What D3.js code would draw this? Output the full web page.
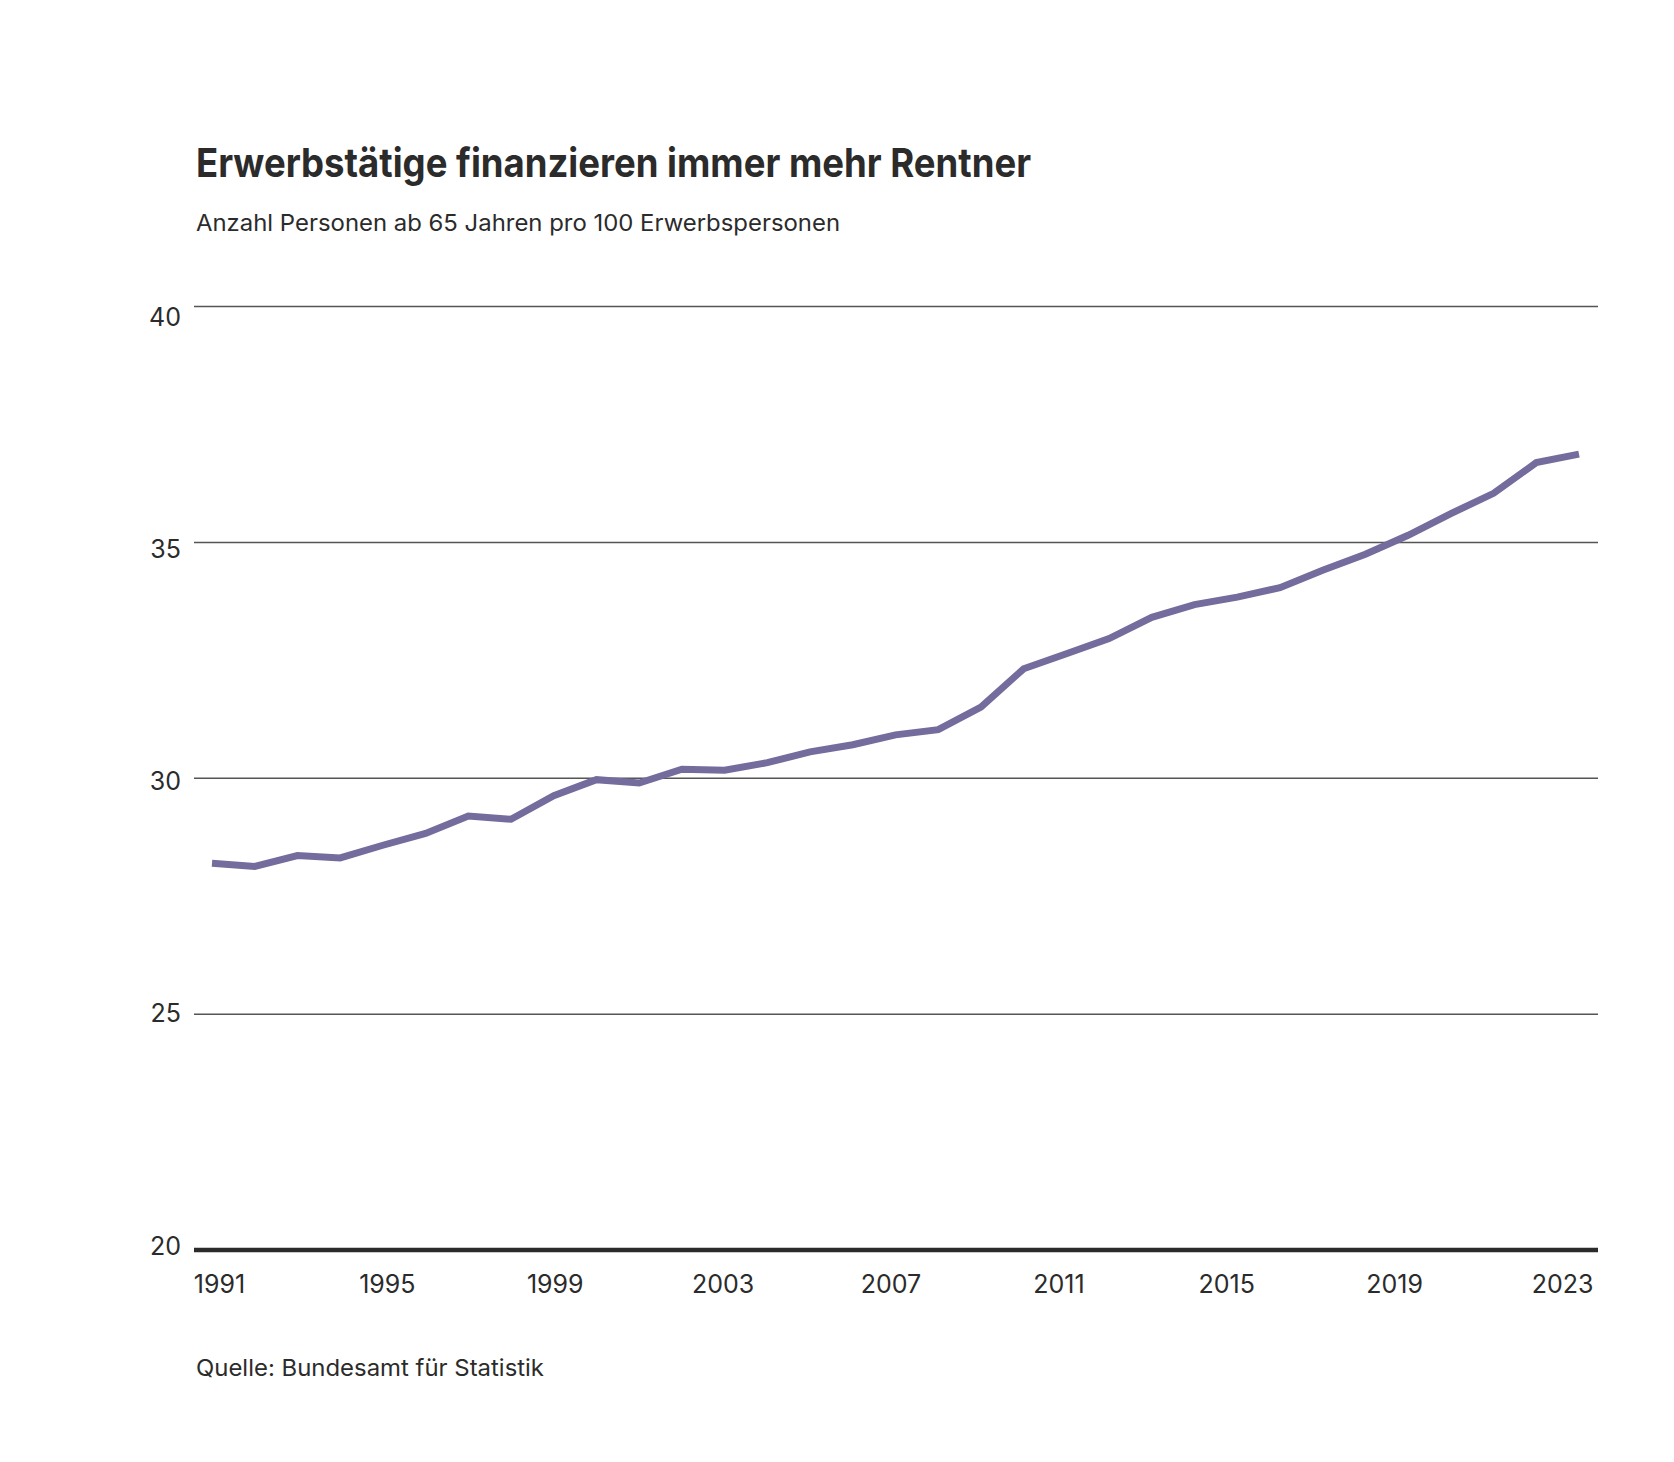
<!DOCTYPE html>
<html><head><meta charset="utf-8">
<script src="https://cdn.jsdelivr.net/npm/d3@7"></script>
<style>
html,body{margin:0;padding:0;background:#fff;}
svg{display:block;}
text{font-family:Inter,"Noto Sans",sans-serif;fill:#2b2b2b;}
</style></head>
<body>
<script>
const years = [1991,1992,1993,1994,1995,1996,1997,1998,1999,2000,2001,2002,2003,2004,2005,2006,2007,2008,2009,2010,2011,2012,2013,2014,2015,2016,2017,2018,2019,2020,2021,2022,2023];
const values = [28.20,28.13,28.36,28.31,28.58,28.83,29.20,29.13,29.63,29.97,29.90,30.19,30.17,30.33,30.56,30.71,30.92,31.03,31.51,32.32,32.64,32.96,33.41,33.68,33.84,34.04,34.41,34.75,35.15,35.61,36.04,36.69,36.87];
const yTicks = [20,25,30,35,40];
const xTickLabels = [1991,1995,1999,2003,2007,2011,2015,2019,2023];
const title = "Erwerbstätige finanzieren immer mehr Rentner";
const subtitle = "Anzahl Personen ab 65 Jahren pro 100 Erwerbspersonen";
const source = "Quelle: Bundesamt für Statistik";

const W = 1674, H = 1462;
const svg = d3.select("body").append("svg").attr("width", W).attr("height", H);
svg.append("rect").attr("width", W).attr("height", H).attr("fill", "#fff");

const gridX0 = 194, gridX1 = 1598;
const x = d3.scaleLinear().domain([1991, 2023]).range([212, 1579]);
const xLab = d3.scaleLinear().domain([1991, 2023]).range([219, 1562]);
const y = d3.scaleLinear().domain([20, 40]).range([1250, 306.5]);
const yLab = d3.scaleLinear().domain([20, 40]).range([1246, 317]);

// title / subtitle
svg.append("text").attr("x", 196).attr("y", 177)
  .attr("font-size", 40).attr("font-weight", 700)
  .attr("textLength", 835).attr("lengthAdjust", "spacingAndGlyphs")
  .text(title);
svg.append("text").attr("x", 196).attr("y", 231)
  .attr("font-size", 23).attr("font-weight", 400)
  .attr("textLength", 644).attr("lengthAdjust", "spacingAndGlyphs")
  .text(subtitle);

// gridlines
svg.append("g").selectAll("line").data(yTicks.filter(d => d !== 20)).join("line")
  .attr("x1", gridX0).attr("x2", gridX1)
  .attr("y1", d => y(d)).attr("y2", d => y(d))
  .attr("stroke", "#555").attr("stroke-width", 1.5);

// y axis labels
const yAxis = d3.axisLeft(yLab).tickValues(yTicks).tickSize(0).tickPadding(0);
const gy = svg.append("g").attr("transform", "translate(181,0)").call(yAxis);
gy.select(".domain").remove();
gy.selectAll("text").attr("font-size", 25).attr("fill", "#2b2b2b")
  .style("font-family", "Inter, 'Noto Sans', sans-serif");

// baseline
svg.append("line").attr("x1", gridX0).attr("x2", gridX1)
  .attr("y1", y(20)).attr("y2", y(20))
  .attr("stroke", "#2b2b2b").attr("stroke-width", 4.5);

// x labels
const xAxis = d3.axisBottom(xLab).tickValues(xTickLabels).tickFormat(d3.format("d")).tickSize(0).tickPadding(0);
const gx = svg.append("g").attr("transform", "translate(0,1275)").call(xAxis);
gx.select(".domain").remove();
gx.selectAll("text").attr("font-size", 25).attr("fill", "#2b2b2b")
  .style("font-family", "Inter, 'Noto Sans', sans-serif");

// line
const line = d3.line().x((d, i) => x(years[i])).y(d => y(d));
svg.append("path").datum(values)
  .attr("d", line)
  .attr("fill", "none")
  .attr("stroke", "#736c9c")
  .attr("stroke-width", 7)
  .attr("stroke-linejoin", "miter");

// source
svg.append("text").attr("x", 196).attr("y", 1376)
  .attr("font-size", 23)
  .attr("textLength", 348).attr("lengthAdjust", "spacingAndGlyphs")
  .text(source);
</script>
</body></html>
